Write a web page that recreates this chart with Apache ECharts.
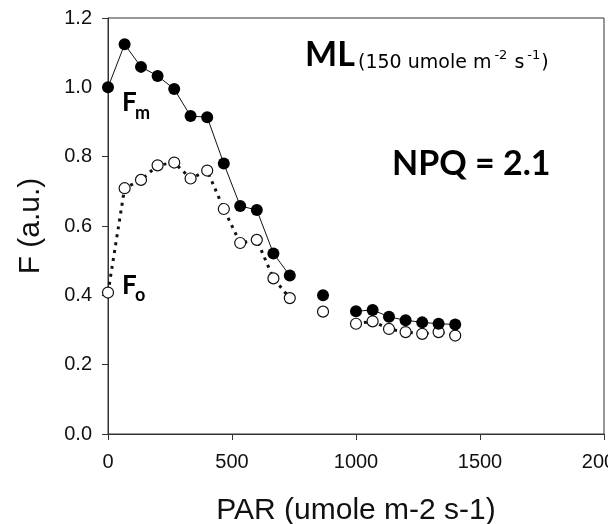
<!DOCTYPE html>
<html><head><meta charset="utf-8">
<script src="https://cdn.jsdelivr.net/npm/echarts@6/dist/echarts.min.js"></script>
<style>html,body{margin:0;padding:0;background:#fff}#c{width:608px;height:524px}</style>
</head><body><div id="c"></div>
<script>
const parX = [0, 67, 133, 200, 267, 333, 400, 467, 533, 600, 667, 733, 867, 1000, 1067, 1133, 1200, 1267, 1333, 1400];
const fmValues = [1.0, 1.124, 1.059, 1.033, 0.995, 0.917, 0.914, 0.780, 0.658, 0.646, 0.521, 0.457, 0.400, 0.354, 0.358, 0.338, 0.328, 0.322, 0.318, 0.316];
const foValues = [0.408, 0.709, 0.733, 0.775, 0.783, 0.737, 0.760, 0.649, 0.551, 0.560, 0.449, 0.392, 0.353, 0.318, 0.325, 0.303, 0.294, 0.289, 0.294, 0.284];
const xTicks = [0, 500, 1000, 1500, 2000];
const yTicks = [0.0, 0.2, 0.4, 0.6, 0.8, 1.0, 1.2];
// line segments (index ranges) – the point at 867 is unconnected
const segments = [[0, 11], [13, 19]];

const pairs = v => parX.map((x, i) => [x, v[i]]);
const fm = pairs(fmValues), fo = pairs(foValues);
const series = [];
segments.forEach(([a, b]) => {
  series.push({type: 'line', data: fm.slice(a, b + 1), showSymbol: false, silent: true,
    lineStyle: {color: '#111', width: 1}, z: 2});
  series.push({type: 'line', data: fo.slice(a, b + 1), showSymbol: false, silent: true,
    lineStyle: {color: '#111', width: 3, type: [3, 5], cap: 'butt'}, z: 2});
});
series.push({type: 'scatter', data: fo, symbol: 'circle', symbolSize: 11, silent: true,
  itemStyle: {color: '#fff', borderColor: '#111', borderWidth: 1.2, opacity: 1}, z: 3});
series.push({type: 'scatter', data: fm, symbol: 'circle', symbolSize: 12, silent: true,
  itemStyle: {color: '#000', opacity: 1}, z: 4});

const chart = echarts.init(document.getElementById('c'), null, {renderer: 'canvas'});
const ff = '"Liberation Sans", Arial, sans-serif';
const cf = 'Lato, "Open Sans", sans-serif';
const sf = '"DejaVu Sans", sans-serif';
chart.setOption({
  animation: false,
  backgroundColor: '#fff',
  grid: {left: 108, right: 4, top: 18, bottom: 90, show: true, borderColor: '#333', borderWidth: 1,
    containLabel: false, outerBoundsMode: 'none'},
  xAxis: {type: 'value', min: xTicks[0], max: xTicks[xTicks.length - 1], interval: 500,
    axisLine: {onZero: false, lineStyle: {color: '#333'}},
    axisTick: {show: true, inside: false, length: 6, lineStyle: {color: '#333'}},
    axisLabel: {color: '#111', fontSize: 20, fontFamily: ff, margin: 18, showMaxLabel: true, hideOverlap: false,
      formatter: v => String(v)},
    splitLine: {show: false},
    name: 'PAR (umole m-2 s-1)', nameLocation: 'middle', nameGap: 62,
    nameTextStyle: {fontSize: 30, fontFamily: ff, color: '#111'}},
  yAxis: {type: 'value', min: yTicks[0], max: yTicks[yTicks.length - 1], interval: 0.2,
    axisLine: {show: true, onZero: false, lineStyle: {color: '#333'}},
    axisTick: {show: true, inside: false, length: 6, lineStyle: {color: '#333'}},
    axisLabel: {color: '#111', fontSize: 20, fontFamily: ff, margin: 16, formatter: v => v.toFixed(1)},
    splitLine: {show: false},
    name: 'F (a.u.)', nameLocation: 'middle', nameGap: 62, nameRotate: 90,
    nameTextStyle: {fontSize: 30, fontFamily: ff, color: '#111'}},
  graphic: [
    {type: 'text', left: 305, top: 38, style: {text: 'ML', font: 'bold 34px ' + cf, fill: '#000'}},
    {type: 'text', left: 358, top: 49, style: {
      text: '{a|(150 umole m}{s|-2}{a| s}{s|-1}{a|)}',
      rich: {
        a: {fontSize: 19, fontFamily: sf, fill: '#000', verticalAlign: 'bottom'},
        s: {fontSize: 13, fontFamily: sf, fill: '#000', verticalAlign: 'bottom', padding: [0, 1, 11, 3]}
      }}},
    {type: 'text', left: 392, top: 147, style: {text: 'NPQ = 2.1', font: 'bold 34px ' + cf, fill: '#000'}},
    {type: 'text', left: 122, top: 90, style: {text: 'F', font: 'bold 26px ' + cf, fill: '#000'}},
    {type: 'text', left: 135, top: 104, style: {text: 'm', font: 'bold 18px ' + cf, fill: '#000'}},
    {type: 'text', left: 122, top: 273, style: {text: 'F', font: 'bold 26px ' + cf, fill: '#000'}},
    {type: 'text', left: 135, top: 286, style: {text: 'o', font: 'bold 18px ' + cf, fill: '#000'}}
  ],
  series: series
});
</script></body></html>
